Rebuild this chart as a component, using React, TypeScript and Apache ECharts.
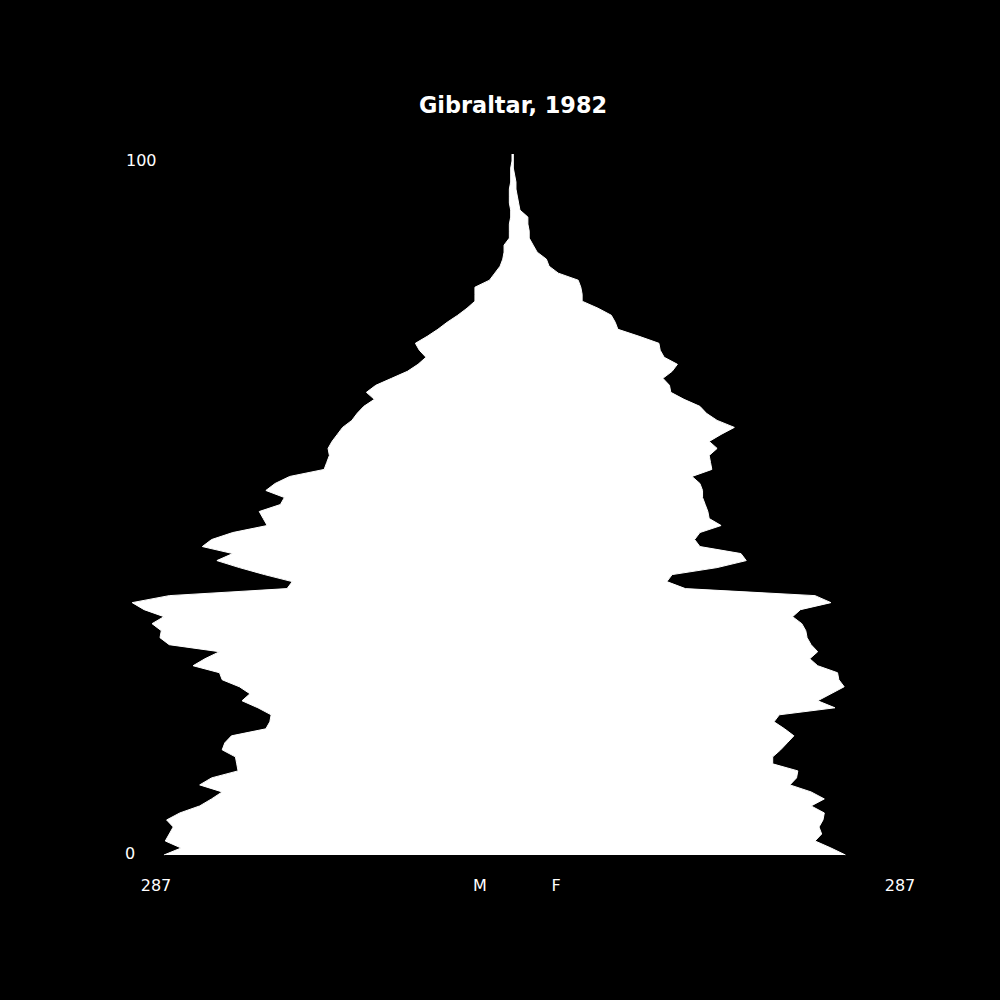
import React, { useRef, useEffect } from 'react';
import * as echarts from 'echarts';

const title = 'Gibraltar, 1982';

// ages 0..100
const ages = Array.from({ length: 101 }, (_, i) => String(i));

// male population by age (0..100)
const male = [
  263, 250, 262, 259, 256, 261, 251, 236, 227, 219,
  236, 227, 207, 208, 209, 219, 217, 212, 186, 183,
  182, 192, 204, 198, 206, 219, 221, 241, 232, 221,
  259, 266, 265, 272, 263, 278, 287, 259, 170, 166,
  187, 206, 223, 211, 234, 227, 211, 185, 188, 191,
  175, 172, 186, 179, 168, 142, 140, 138, 139, 136,
  132, 128, 121, 117, 112, 104, 110, 103, 91, 79,
  71, 65, 70, 73, 64, 56, 49, 41, 34, 28,
  28, 28, 17, 13, 9, 7, 6, 6, 2, 2,
  2, 1, 1, 2, 2, 2, 1, 1, 1, 0, 0,
];

// female population by age (0..100)
const female = [
  252, 241, 229, 234, 232, 235, 236, 226, 236, 226,
  210, 215, 216, 197, 197, 203, 208, 213, 206, 198,
  202, 244, 231, 241, 251, 247, 246, 231, 225, 231,
  226, 223, 222, 219, 212, 218, 241, 229, 131, 117,
  121, 155, 177, 173, 142, 138, 142, 158, 149, 148,
  146, 144, 144, 142, 136, 151, 150, 149, 155, 149,
  158, 168, 155, 147, 142, 130, 120, 119, 114, 121,
  125, 115, 112, 111, 96, 80, 78, 75, 65, 53,
  53, 52, 50, 35, 28, 26, 19, 16, 13, 13,
  12, 12, 6, 5, 4, 3, 3, 2, 1, 1, 1,
];

const maxValue = Math.max(...male, ...female);
const ageLabels = ['100', '0'];
const sideLabels = [String(maxValue), 'M', 'F', String(maxValue)];

const App: React.FC = () => {
  const chartRef = useRef<HTMLDivElement>(null);

  useEffect(() => {
    document.body.style.margin = '0';
    document.body.style.background = '#000';
    if (!chartRef.current) return;

    const chart = echarts.init(chartRef.current, null, { renderer: 'svg' });
    const font = '"DejaVu Sans", sans-serif';
    const labelStyle = { fill: '#fff', fontSize: 16, fontFamily: font, verticalAlign: 'middle' };

    const option: echarts.EChartsOption = {
      animation: false,
      backgroundColor: '#000',
      title: {
        text: title,
        left: 508,
        textAlign: 'center',
        top: 89,
        textStyle: { color: '#fff', fontSize: 22.4, fontWeight: 'bold', fontFamily: font },
      },
      // zero of the value axis lands on x = 512 (pixel boundary, no seam)
      grid: { left: 115, right: 91, top: 154, bottom: 145 },
      xAxis: { type: 'value', min: -300, max: 300, show: false },
      yAxis: { type: 'category', data: ages, boundaryGap: false, show: false },
      series: [
        {
          name: 'M',
          type: 'line',
          data: male.map((v) => -v),
          showSymbol: false,
          lineStyle: { color: '#fff', width: 1 },
          areaStyle: { color: '#fff', opacity: 1 },
        },
        {
          name: 'F',
          type: 'line',
          data: female,
          showSymbol: false,
          lineStyle: { color: '#fff', width: 1 },
          areaStyle: { color: '#fff', opacity: 1 },
          markLine: {
            silent: true,
            symbol: 'none',
            label: { show: false },
            lineStyle: { color: '#fff', width: 1.5, type: 'solid' },
            data: [[{ coord: [0, '0'] }, { coord: [0, '95'] }]],
          },
        },
      ],
      graphic: [
        { type: 'text', x: 126, y: 160, style: { ...labelStyle, text: ageLabels[0], align: 'left' } },
        { type: 'text', x: 125, y: 853, style: { ...labelStyle, text: ageLabels[1], align: 'left' } },
        { type: 'text', x: 156, y: 885, style: { ...labelStyle, text: sideLabels[0], align: 'center' } },
        { type: 'text', x: 480, y: 885, style: { ...labelStyle, text: sideLabels[1], align: 'center' } },
        { type: 'text', x: 556, y: 885, style: { ...labelStyle, text: sideLabels[2], align: 'center' } },
        { type: 'text', x: 900, y: 885, style: { ...labelStyle, text: sideLabels[3], align: 'center' } },
      ],
    };

    chart.setOption(option);

    return () => {
      chart.dispose();
    };
  }, []);

  return <div ref={chartRef} style={{ width: 1000, height: 1000 }} />;
};

export default App;
